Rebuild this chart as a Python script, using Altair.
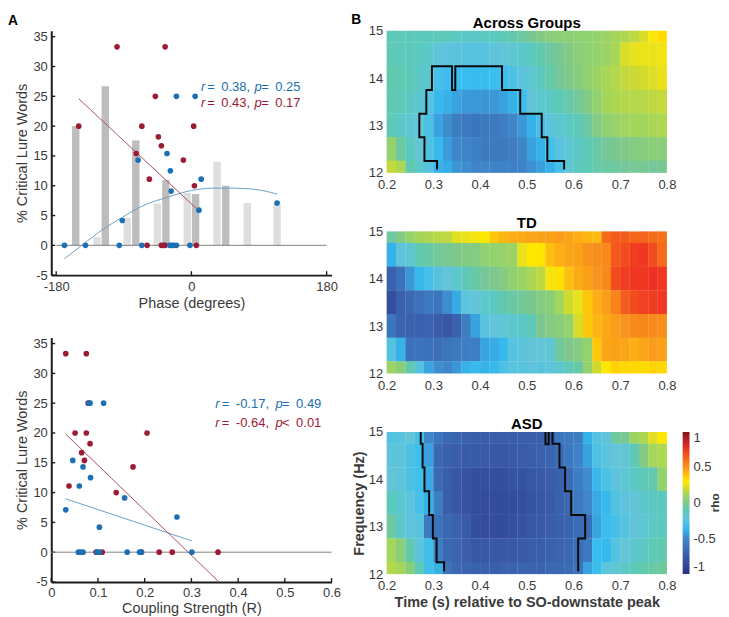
import altair as alt
import pandas as pd

FONT = "Liberation Sans"
INK = "#3a3a3a"
BLUE = "#1b70b5"
RED = "#9c1c34"
BLUE_LINE = "#6b9fc4"
RED_LINE = "#a5505f"
HYPHEN = "datum.value < 0 ? '-' + format(-datum.value, '{0}') : format(datum.value, '{0}')"

# Panel A, phase
bar_dark_x = [-154, -114.6, -74, -34, 5.6, 45.7]
bar_dark_y = [20, 26.7, 17.6, 11, 8.6, 10]
bar_light_x = [-125.7, -85.5, -45.3, -5.6, 34.2, 74.4, 114]
bar_light_y = [1.4, 4.6, 7, 8.8, 14, 7.1, 7]
phase_blue_x = [-169, -141, -96, -92, -71, -66, -32.5, -28, -27, -20, 5, 13, 10, 114, -29, -26, -23.5, -20, -2]
phase_blue_y = [0, 0, 0, 4.17, 14.3, 0, 15.4, 12.5, 9.1, 25, 25, 11.1, 5.9, 7.1, 0, 0, 0, 0, 0]
phase_red_x = [-150, -99, -35, -48, -66, 3, -44, -40, -73.5, -10.7, -56, 4, -59, -40, -37, -35, 6.5]
phase_red_y = [20, 33.3, 33.3, 25, 20, 20, 18.2, 16.7, 15.4, 14.3, 11.1, 10, 0, 0, 0, 0, 0]
phase_fit_blue_x = [-169, -146, -117, -92, -65.4, -31, 0, 28.6, 54.3, 84.2, 114]
phase_fit_blue_y = [-2.25, 0, 2.75, 4.7, 6.6, 8.1, 9.2, 9.6, 9.6, 9.4, 8.6]
phase_fit_red_x = [-150, 6.4]
phase_fit_red_y = [24.6, 6.2]

# Panel A, coupling
coup_blue_x = [0.031, 0.046, 0.068, 0.084, 0.06, 0.157, 0.103, 0.269, 0.081, 0.083, 0.112,
               0.058, 0.063, 0.068, 0.098, 0.103, 0.1625, 0.189, 0.193, 0.301]
coup_blue_y = [7.1, 15.4, 14.3, 12.5, 11.1, 9.1, 4.2, 5.9, 25, 25, 25, 0, 0, 0, 0, 0, 0, 0, 0, 0]
coup_red_x = [0.031, 0.075, 0.079, 0.051, 0.075, 0.205, 0.083, 0.065, 0.071, 0.175, 0.038, 0.139,
              0.096, 0.109, 0.193, 0.231, 0.259, 0.357]
coup_red_y = [33.3, 33.3, 25, 20, 20, 20, 18.2, 16.7, 15.4, 14.3, 11.1, 10, 0, 0, 0, 0, 0, 0]
coup_fit_blue_x = [0.031, 0.301]
coup_fit_blue_y = [8.95, 1.9]
coup_fit_red_x = [0.031, 0.357]
coup_fit_red_y = [19.8, -4.84]

y_ticks = [-5, 0, 5, 10, 15, 20, 25, 30, 35]
phase_ticks = [-180, 0, 180]
coup_ticks = [0, 0.1, 0.2, 0.3, 0.4, 0.5, 0.6]

# Panel B
freqs = [15, 14.5, 14, 13.5, 13, 12.5, 12]
times = [0.20, 0.22, 0.24, 0.26, 0.28, 0.30, 0.32, 0.34, 0.36, 0.38,
         0.40, 0.42, 0.44, 0.46, 0.48, 0.50, 0.52, 0.54, 0.56, 0.58,
         0.60, 0.62, 0.64, 0.66, 0.68, 0.70, 0.72, 0.74, 0.76, 0.78]
across = [
    [-.10,-.10,-.11,-.11,-.11,-.10,-.11,-.13,-.14,-.14,-.13,-.12,-.10,-.08,-.05,-.02,.02,.05,.06,.06,.07,.07,.08,.10,.12,.14,.17,.22,.29,.33],
    [-.10,-.11,-.11,-.12,-.15,-.22,-.22,-.23,-.24,-.24,-.24,-.22,-.20,-.18,-.15,-.12,-.08,-.05,-.02,.02,.05,.07,.08,.10,.13,.22,.25,.26,.26,.27],
    [-.08,-.09,-.10,-.14,-.16,-.30,-.33,-.35,-.35,-.35,-.35,-.34,-.33,-.28,-.22,-.18,-.12,-.07,-.03,.01,.04,.07,.10,.13,.15,.18,.19,.21,.23,.26],
    [-.09,-.10,-.13,-.17,-.25,-.36,-.38,-.42,-.45,-.45,-.46,-.45,-.42,-.38,-.33,-.20,-.17,-.14,-.10,-.07,-.03,.02,.07,.12,.14,.15,.15,.16,.17,.18],
    [-.10,-.14,-.18,-.20,-.28,-.42,-.48,-.55,-.58,-.60,-.58,-.58,-.55,-.50,-.45,-.38,-.30,-.22,-.17,-.14,-.10,-.05,.02,.07,.09,.11,.12,.12,.13,.14],
    [.08,-.05,-.12,-.20,-.27,-.36,-.44,-.50,-.52,-.54,-.58,-.58,-.58,-.55,-.50,-.42,-.38,-.30,-.24,-.18,-.14,-.10,-.07,-.03,-.01,.01,.03,.04,.05,.05],
    [.18,.14,-.08,-.15,-.25,-.38,-.40,-.46,-.48,-.50,-.50,-.52,-.52,-.53,-.52,-.47,-.43,-.38,-.30,-.18,-.12,-.10,-.07,-.05,-.05,-.03,-.02,-.02,-.03,-.02],
]
td = [
    [-.05,.02,.08,.12,.14,.16,.17,.24,.26,.28,.30,.38,.42,.44,.45,.46,.47,.47,.48,.46,.44,.42,.41,.62,.66,.66,.64,.64,.62,.60],
    [-.38,-.22,-.18,-.08,-.06,-.03,-.02,.00,.02,.03,.07,.08,.09,.10,.25,.30,.31,.40,.44,.46,.47,.50,.52,.53,.67,.70,.73,.74,.70,.62],
    [-.72,-.62,-.46,-.36,-.30,-.25,-.20,-.16,-.10,-.06,-.03,.00,.03,.07,.10,.13,.17,.28,.32,.40,.45,.47,.50,.53,.70,.73,.74,.74,.75,.74],
    [-.82,-.72,-.68,-.62,-.58,-.60,-.48,-.40,-.22,-.20,-.17,-.13,-.08,-.06,-.03,-.01,.03,.05,.12,.20,.25,.38,.44,.48,.55,.66,.70,.72,.73,.74],
    [-.60,-.70,-.72,-.72,-.70,-.75,-.78,-.72,-.55,-.42,-.24,-.20,-.19,-.17,-.14,-.10,-.01,.03,.05,.08,.22,.38,.42,.45,.48,.50,.53,.54,.53,.52],
    [-.25,-.38,-.62,-.60,-.62,-.63,-.60,-.58,-.55,-.55,-.42,-.40,-.36,-.24,-.22,-.20,-.19,-.18,-.04,0.0,.03,.08,.38,.46,.47,.46,.44,.46,.48,.47],
    [.10,.05,-.08,-.25,-.42,-.48,-.50,-.46,-.38,-.36,-.38,-.36,-.28,-.24,-.24,-.22,-.24,-.22,-.16,-.10,-.06,.08,.20,.30,.35,.34,.34,.33,.35,.34],
]
asd = [
    [-.25,-.24,-.20,-.30,-.50,-.60,-.68,-.70,-.72,-.73,-.74,-.74,-.74,-.74,-.74,-.74,-.74,-.74,-.60,-.58,-.55,-.38,-.25,-.22,-.04,-.02,.10,.14,.24,.30],
    [-.22,-.22,-.28,-.33,-.42,-.68,-.72,-.74,-.76,-.76,-.76,-.77,-.77,-.76,-.75,-.74,-.72,-.70,-.65,-.58,-.52,-.42,-.28,-.22,-.20,-.18,-.10,.02,.12,.14],
    [-.20,-.22,-.28,-.32,-.40,-.68,-.74,-.78,-.80,-.82,-.82,-.82,-.82,-.80,-.80,-.78,-.76,-.74,-.72,-.66,-.55,-.48,-.36,-.28,-.22,-.18,-.14,-.10,-.08,.08],
    [-.12,-.16,-.22,-.30,-.38,-.55,-.74,-.78,-.80,-.83,-.84,-.84,-.84,-.84,-.82,-.80,-.78,-.76,-.72,-.68,-.58,-.50,-.40,-.36,-.26,-.22,-.20,-.16,-.14,-.12],
    [-.05,-.14,-.22,-.24,-.58,-.62,-.68,-.72,-.76,-.82,-.84,-.84,-.84,-.82,-.80,-.78,-.76,-.74,-.72,-.70,-.66,-.64,-.42,-.34,-.30,-.25,-.20,-.18,-.14,-.12],
    [.12,.05,-.08,-.22,-.32,-.55,-.68,-.70,-.74,-.78,-.78,-.78,-.78,-.78,-.76,-.74,-.74,-.72,-.70,-.68,-.64,-.58,-.35,-.36,-.25,-.20,-.16,-.14,-.10,-.08],
    [.15,.12,.05,-.10,-.32,-.38,-.62,-.68,-.70,-.72,-.72,-.74,-.72,-.72,-.70,-.70,-.70,-.68,-.68,-.66,-.62,-.42,-.34,-.22,-.18,-.14,-.10,-.08,-.06,-.04],
]
across_x = [.308,.308,.281,.281,.27,.27,.285,.285,.297,.297,.34,.34,.347,.347,.447,.447,.486,.486,.532,.532,.544,.544,.58,.58]
across_y = [12.07,12.25,12.25,12.75,12.75,13.25,13.25,13.75,13.75,14.25,14.25,13.75,13.75,14.25,14.25,13.75,13.75,13.25,13.25,12.75,12.75,12.25,12.25,12.07]
asd_left_x = [.273,.273,.277,.277,.281,.281,.291,.291,.299,.299,.307,.307,.323,.323]
asd_left_y = [15,14.75,14.75,14.25,14.25,13.75,13.75,13.25,13.25,12.75,12.75,12.25,12.25,12.06]
asd_u_x = [.540,.540,.547,.547]
asd_u_y = [15,14.74,14.74,15]
asd_right_x = [.555,.555,.570,.570,.582,.582,.595,.595,.625,.625,.610,.610]
asd_right_y = [15,14.75,14.75,14.25,14.25,13.75,13.75,13.25,13.25,12.75,12.75,12.06]

cmap_stops = [-1, -0.75, -0.5, -0.35, -0.2, 0, 0.2, 0.3, 0.4, 0.5, 0.75, 0.9, 1]
cmap_colors = ["#2b2f85", "#3a5ca9", "#3f86c9", "#38bdf0", "#64c5d8", "#80c78c", "#d0d92e",
               "#ffe800", "#fdbf10", "#f7941d", "#ee3123", "#b81f25", "#7f1416"]
cbar_ticks = [-1, -0.5, 0, 0.5, 1]
time_ticks = [0.2, 0.3, 0.4, 0.5, 0.6, 0.7, 0.8]
freq_ticks = [12, 13, 14, 15]

PW, PH_A, PH_B = 285, 248.5, 144.5


def df(x, y):
    return pd.DataFrame({"x": x, "y": y, "i": range(len(x))})


def text_layer(txt, x, y, size=14, weight="bold", color="#000000", align="left", baseline="alphabetic", angle=0):
    return alt.Chart(pd.DataFrame({"t": [txt]})).mark_text(
        align=align, baseline=baseline, font=FONT, fontSize=size, fontWeight=weight, color=color, angle=angle
    ).encode(x=alt.value(x), y=alt.value(y), text="t:N")


def panel_a(xdom, xticks, xtitle, xfmt, blue, red, fit_blue, fit_red, bars, notes, tag=None, lab_pad=6, tit_pad=3):
    xs = alt.Scale(domain=xdom, nice=False, zero=False)
    ys = alt.Scale(domain=[-5, 36], nice=False, zero=False)
    xa = alt.Axis(values=xticks, title=xtitle, grid=False, tickSize=0, labelPadding=lab_pad, labelExpr=xfmt,
                  domainColor="#1a1a1a", domainWidth=2, labelFontSize=13.2, titleFontSize=14.7,
                  titleFontWeight="normal", labelColor=INK, titleColor=INK, labelFont=FONT, titleFont=FONT,
                  titlePadding=tit_pad, labelOverlap=False, labelFlush=False)
    ya = alt.Axis(values=y_ticks, title="% Critical Lure Words", grid=False, tickSize=0, labelPadding=4,
                  labelExpr=HYPHEN.format("d"),
                  domainColor="#1a1a1a", domainWidth=2, labelFontSize=13.2, titleFontSize=14.7,
                  titleFontWeight="normal", labelColor=INK, titleColor=INK, labelFont=FONT, titleFont=FONT,
                  titlePadding=4, labelOverlap=False, labelFlush=False)
    X = alt.X("x:Q", scale=xs, axis=xa)
    Y = alt.Y("y:Q", scale=ys, axis=ya)
    layers = []
    layers.append(alt.Chart(df(y_ticks, y_ticks)).mark_rule(color="#1a1a1a", strokeWidth=1.4).encode(
        y=Y, x=alt.value(0), x2=alt.value(4)))
    layers.append(alt.Chart(df(xticks, xticks)).mark_rule(color="#1a1a1a", strokeWidth=1.4).encode(
        x=X, y=alt.value(PH_A), y2=alt.value(PH_A - 4)))
    for (bx, by, col) in bars:
        layers.append(alt.Chart(df(bx, by)).mark_bar(size=7.5, color=col).encode(x=X, y=Y))
    layers.append(alt.Chart(df(xdom, [0, 0])).mark_line(color="#7f7f7f", strokeWidth=1).encode(x=X, y=Y))
    layers.append(alt.Chart(df(*fit_blue)).mark_line(color=BLUE_LINE, strokeWidth=1, interpolate="monotone", clip=True).encode(x=X, y=Y))
    layers.append(alt.Chart(df(*fit_red)).mark_line(color=RED_LINE, strokeWidth=1, clip=True).encode(x=X, y=Y))
    layers.append(alt.Chart(df(*red)).mark_circle(size=33, color=RED, opacity=1).encode(x=X, y=Y))
    layers.append(alt.Chart(df(*blue)).mark_circle(size=33, color=BLUE, opacity=1).encode(x=X, y=Y))
    for (nx, ny, txt, col, style) in notes:
        layers.append(alt.Chart(pd.DataFrame({"x": [nx], "y": [ny], "t": [txt]})).mark_text(
            align="left", baseline="middle", font=FONT, fontSize=13.2, fontStyle=style, color=col
        ).encode(x=X, y=Y, text="t:N"))
    if tag:
        layers.append(text_layer(tag, -44, -6))
    return alt.layer(*layers).properties(width=PW, height=PH_A)


def heat(values):
    rows = []
    for f, row in zip(freqs, values):
        for t, v in zip(times, row):
            rows.append({"x0": t, "x1": min(0.8, t + 0.0205), "y0": max(12, f - 0.25), "y1": min(15, f + 0.256), "v": v})
    return pd.DataFrame(rows)


def panel_b(values, title, contours=(), legend=None, xtitle=None, ytitle=" ", extra=None, tag=None):
    xs = alt.Scale(domain=[0.2, 0.8], nice=False, zero=False)
    ys = alt.Scale(domain=[12, 15], nice=False, zero=False)
    xa = alt.Axis(values=time_ticks, format=".1f", title=xtitle, grid=False, domain=False, ticks=False,
                  labelPadding=6, labelFontSize=13.2, labelColor=INK, labelFont=FONT, labelOverlap=False, labelFlush=False,
                  titleFont=FONT, titleFontSize=14.7, titleFontWeight="bold", titleColor=INK, titlePadding=3)
    ya = alt.Axis(values=freq_ticks, format="d", title=ytitle, grid=False, domain=False, ticks=False,
                  labelPadding=4, labelFontSize=13.2, labelColor=INK, labelFont=FONT, labelOverlap=False, labelFlush=False,
                  titleFont=FONT, titleFontSize=14.7, titleFontWeight="bold", titleColor=INK, titlePadding=2)
    cs = alt.Scale(domain=cmap_stops, range=cmap_colors)
    layers = [alt.Chart(heat(values)).mark_rect(strokeWidth=0).encode(
        x=alt.X("x0:Q", scale=xs, axis=xa), x2="x1:Q",
        y=alt.Y("y0:Q", scale=ys, axis=ya), y2="y1:Q",
        color=alt.Color("v:Q", scale=cs, legend=legend))]
    X = alt.X("x:Q", scale=xs, axis=xa)
    Y = alt.Y("y:Q", scale=ys, axis=ya)
    for cx, cy in contours:
        layers.append(alt.Chart(df(cx, cy)).mark_line(color="#0a0a0a", strokeWidth=2, clip=True).encode(
            x=X, y=Y, order="i:Q"))
    layers.append(text_layer(title, PW / 2, -3, size=15.2, align="center"))
    if tag:
        layers.append(text_layer(tag, -36, -7))
    if extra:
        layers.append(text_layer(extra, 334, 72, size=12, color=INK, align="center", baseline="middle", angle=270))
    return alt.layer(*layers).properties(width=PW, height=PH_B)


a1 = panel_a([-180, 180], phase_ticks, "Phase (degrees)", HYPHEN.format("d"),
             (phase_blue_x, phase_blue_y), (phase_red_x, phase_red_y),
             (phase_fit_blue_x, phase_fit_blue_y), (phase_fit_red_x, phase_fit_red_y),
             [(bar_light_x, bar_light_y, "#dedede"), (bar_dark_x, bar_dark_y, "#bdbdbd")],
             [(12.8, 26.6, "r", BLUE, "italic"), (21, 26.6, "=\u20020.38,", BLUE, "normal"),
              (84, 26.6, "p", BLUE, "italic"), (92.8, 26.6, "=\u20020.25", BLUE, "normal"),
              (12.8, 23.8, "r", RED, "italic"), (21, 23.8, "=\u20020.43,", RED, "normal"),
              (84, 23.8, "p", RED, "italic"), (92.8, 23.8, "=\u20020.17", RED, "normal")], tag="A")
a2 = panel_a([0, 0.6], coup_ticks, "Coupling Strength (R)", "datum.value == 0 ? '0' : format(datum.value, '.1f')",
             (coup_blue_x, coup_blue_y), (coup_red_x, coup_red_y),
             (coup_fit_blue_x, coup_fit_blue_y), (coup_fit_red_x, coup_fit_red_y),
             [],
             [(0.351, 24.8, "r", BLUE, "italic"), (0.365, 24.8, "=\u2002-0.17,", BLUE, "normal"),
              (0.48, 24.8, "p", BLUE, "italic"), (0.494, 24.8, "=\u20020.49", BLUE, "normal"),
              (0.351, 21.7, "r", RED, "italic"), (0.365, 21.7, "=\u2002-0.64,", RED, "normal"),
              (0.48, 21.7, "p", RED, "italic"), (0.494, 21.7, "<\u20020.01", RED, "normal")],
             lab_pad=5, tit_pad=2)

leg = alt.Legend(title=None, orient="none", legendX=301, legendY=0, gradientLength=144.5, gradientThickness=7,
                 values=cbar_ticks, labelExpr=HYPHEN.format(".1~f"), labelFont=FONT, labelFontSize=13.2, labelColor=INK,
                 gradientStrokeWidth=0, labelOffset=4, padding=0)

b1 = panel_b(across, "Across Groups", contours=[(across_x, across_y)], tag="B")
b2 = panel_b(td, "TD")
b3 = panel_b(asd, "ASD", contours=[(asd_left_x, asd_left_y), (asd_u_x, asd_u_y), (asd_right_x, asd_right_y)],
             legend=leg, xtitle="Time (s) relative to SO-downstate peak", ytitle="Frequency (Hz)", extra="rho")

left = alt.vconcat(a1, a2, spacing=26)
right = alt.vconcat(b1, b2, b3, spacing=26).resolve_scale(color="independent")
chart = alt.hconcat(left, right, spacing=10).resolve_scale(color="independent").properties(
    padding={"left": 0, "top": 0, "right": 0, "bottom": -2}
).configure_view(stroke=None)
chart.save("out.html", embed_options={"renderer": "svg", "actions": False})
